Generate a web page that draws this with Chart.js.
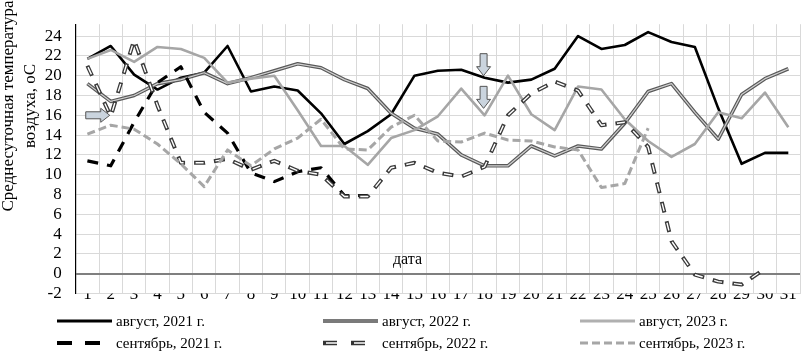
<!DOCTYPE html>
<html><head><meta charset="utf-8">
<script src="https://cdn.jsdelivr.net/npm/chart.js@4/dist/chart.umd.min.js"></script>
<style>html,body{margin:0;padding:0;background:#fff}#wrap{width:802px;height:353px;position:relative}</style>
</head><body><div id="wrap"><canvas id="c" width="802" height="353"></canvas></div>
<script>
const days = ['1','2','3','4','5','6','7','8','9','10','11','12','13','14','15','16','17','18','19','20','21','22','23','24','25','26','27','28','29','30','31'];
const aug2021 = [21.7, 23.0, 20.1, 18.6, 19.8, 20.3, 23.0, 18.4, 18.9, 18.5, 16.2, 13.1, 14.4, 16.1, 20.0, 20.5, 20.6, 19.8, 19.3, 19.6, 20.7, 24.0, 22.7, 23.1, 24.4, 23.4, 22.9, 16.7, 11.1, 12.2, 12.2];
const aug2022 = [19.2, 17.4, 18.0, 19.2, 19.6, 20.3, 19.2, 19.8, 20.5, 21.2, 20.8, 19.6, 18.7, 16.2, 14.7, 14.1, 12.0, 10.9, 10.9, 12.9, 11.9, 12.9, 12.6, 15.2, 18.4, 19.2, 16.3, 13.6, 18.1, 19.7, 20.7];
const aug2023 = [21.7, 22.6, 21.4, 22.9, 22.7, 21.8, 19.3, 19.7, 20.0, 16.5, 12.9, 12.9, 11.0, 13.7, 14.5, 15.9, 18.7, 16.0, 20.0, 16.1, 14.5, 18.9, 18.6, 15.6, 13.4, 11.8, 13.1, 16.3, 15.7, 18.3, 14.8];
const sep2021 = [11.4, 10.9, 15.3, 19.3, 20.9, 16.3, 14.2, 10.2, 9.3, 10.3, 10.7, 7.9, 7.9];
const sep2022 = [21.0, 15.9, 23.6, 17.0, 11.2, 11.2, 11.6, 10.5, 11.4, 10.4, 10.0, 7.8, 7.8, 10.7, 11.2, 10.2, 9.8, 10.8, 16.0, 18.2, 19.4, 18.5, 15.0, 15.3, 12.8, 3.3, -0.1, -0.8, -1.1, 0.5];
const sep2023 = [14.1, 15.0, 14.6, 13.1, 11.1, 8.8, 12.5, 10.9, 12.6, 13.7, 15.6, 12.6, 12.5, 14.8, 16.0, 13.4, 13.3, 14.2, 13.5, 13.4, 12.8, 12.5, 8.7, 9.1, 14.7];
const seriesNames = ['август, 2021 г.', 'август, 2022 г.', 'август, 2023 г.', 'сентябрь, 2021 г.', 'сентябрь, 2022 г.', 'сентябрь, 2023 г.'];
const yTitle = ['Среднесуточная температура', 'воздуха, oC'];
const xTitle = 'дата';
// block-arrow annotations: [day index, value of tip, direction]
const arrows = [[1, 16.0, 'right'], [17, 20.0, 'down'], [17, 16.7, 'down']];

const FONT = "'Liberation Serif', 'Times New Roman', serif";

function line(data, color, width, dash, order, extra) {
  return Object.assign({
    data: data, borderColor: color, borderWidth: width, borderDash: dash || [],
    pointRadius: 0, pointHoverRadius: 0, tension: 0, fill: false, order: order,
    borderCapStyle: 'butt', borderJoinStyle: 'round', spanGaps: false
  }, extra || {});
}

const datasets = [
  line(aug2021, '#000000', 2.6, [], 12),
  line(aug2022, '#595959', 3.6, [], 11),
  line(aug2022, '#d0d0d0', 1.2, [], 10),
  line(aug2023, '#a6a6a6', 2.6, [], 9),
  line(sep2021, '#000000', 3.2, [11, 9], 8),
  line(sep2022, '#3a3a3a', 4.0, [11, 9], 7),
  line(sep2022, '#ffffff', 1.4, [8, 12], 6, {borderDashOffset: -1.5}),
  line(sep2023, '#a6a6a6', 3.0, [8, 4], 5)
];

const decor = {
  id: 'decor',
  afterDatasetsDraw(chart) {
    const ctx = chart.ctx, xs = chart.scales.x, ys = chart.scales.y;
    ctx.save();
    ctx.fillStyle = '#cad4de';
    ctx.strokeStyle = '#555';
    ctx.lineWidth = 1;
    arrows.forEach(a => {
      const tx = xs.getPixelForValue(a[0]), ty = ys.getPixelForValue(a[1]);
      ctx.beginPath();
      if (a[2] === 'right') {
        const x = tx - 1;
        ctx.moveTo(x, ty);
        ctx.lineTo(x - 9, ty - 7);
        ctx.lineTo(x - 9, ty - 3.5);
        ctx.lineTo(x - 24, ty - 3.5);
        ctx.lineTo(x - 24, ty + 3.5);
        ctx.lineTo(x - 9, ty + 3.5);
        ctx.lineTo(x - 9, ty + 7);
      } else {
        const x = tx - 1;
        ctx.moveTo(x, ty);
        ctx.lineTo(x - 7, ty - 9);
        ctx.lineTo(x - 3.5, ty - 9);
        ctx.lineTo(x - 3.5, ty - 22);
        ctx.lineTo(x + 3.5, ty - 22);
        ctx.lineTo(x + 3.5, ty - 9);
        ctx.lineTo(x + 7, ty - 9);
      }
      ctx.closePath();
      ctx.fill();
      ctx.stroke();
    });
    // x title inside plot
    ctx.fillStyle = '#000';
    ctx.font = '16px ' + FONT;
    ctx.textAlign = 'center';
    ctx.textBaseline = 'middle';
    ctx.fillText(xTitle, xs.getPixelForValue(13.7), ys.getPixelForValue(1.4));
    ctx.restore();
  },
  afterDraw(chart) {
    const ctx = chart.ctx;
    ctx.save();
    // y title
    ctx.fillStyle = '#000';
    ctx.font = '17px ' + FONT;
    ctx.textAlign = 'center';
    ctx.textBaseline = 'middle';
    [[9, yTitle[0]], [31, yTitle[1]]].forEach(p => {
      ctx.save();
      ctx.translate(p[0], 106);
      ctx.rotate(-Math.PI / 2);
      ctx.fillText(p[1], 0, 0);
      ctx.restore();
    });
    // legend
    const cols = [57, 323, 580], rows = [321, 343];
    ctx.font = '15px ' + FONT;
    ctx.textAlign = 'left';
    const styles = [
      [{c: '#000', w: 3, d: []}],
      [{c: '#7a7a7a', w: 4, d: []}],
      [{c: '#b0b0b0', w: 3, d: []}],
      [{c: '#000', w: 4, d: [15, 13]}],
      [{c: '#333', w: 4.5, d: [14, 14]}, {c: '#fff', w: 1.6, d: [11, 17], o: -1.5}],
      [{c: '#a6a6a6', w: 3, d: [8, 4]}]
    ];
    seriesNames.forEach((name, i) => {
      const x0 = cols[i % 3] + 0, y = rows[Math.floor(i / 3)];
      styles[i].forEach(s => {
        ctx.beginPath();
        ctx.strokeStyle = s.c;
        ctx.lineWidth = s.w;
        ctx.setLineDash(s.d);
        ctx.lineDashOffset = s.o || 0;
        ctx.moveTo(x0 + (s.o ? 1.5 : 0), y);
        ctx.lineTo(x0 + 55, y);
        ctx.stroke();
      });
      ctx.setLineDash([]);
      ctx.fillStyle = '#000';
      ctx.fillText(name, x0 + 59, y + 1);
    });
    ctx.restore();
  }
};

new Chart(document.getElementById('c'), {
  type: 'line',
  data: {labels: days, datasets: datasets},
  options: {
    responsive: false, animation: false, devicePixelRatio: 1,
    layout: {padding: {left: 0, right: 2, top: 5, bottom: 45.5}},
    plugins: {legend: {display: false}, tooltip: {enabled: false}},
    scales: {
      x: {
        type: 'category', offset: true,
        grid: {offset: true, color: '#d9d9d9', lineWidth: 1, drawTicks: false},
        border: {display: false},
        ticks: {font: {family: FONT, size: 17}, color: '#000', padding: -9, maxRotation: 0, autoSkip: false},
        afterFit(s) { s.height = 14; }
      },
      y: {
        min: -2, max: 25.2,
        grid: {
          drawTicks: false,
          color: c => (c.tick && c.tick.value === 0) ? '#7f7f7f' : '#d9d9d9',
          lineWidth: c => (c.tick && c.tick.value === 0) ? 2 : 1
        },
        border: {display: true, color: '#000', width: 1.2},
        ticks: {stepSize: 2, includeBounds: false, maxTicksLimit: 40, autoSkip: false, font: {family: FONT, size: 17}, color: '#000', padding: 14},
        afterFit(s) { s.width = 75.7; }
      }
    }
  },
  plugins: [decor]
});
</script></body></html>
